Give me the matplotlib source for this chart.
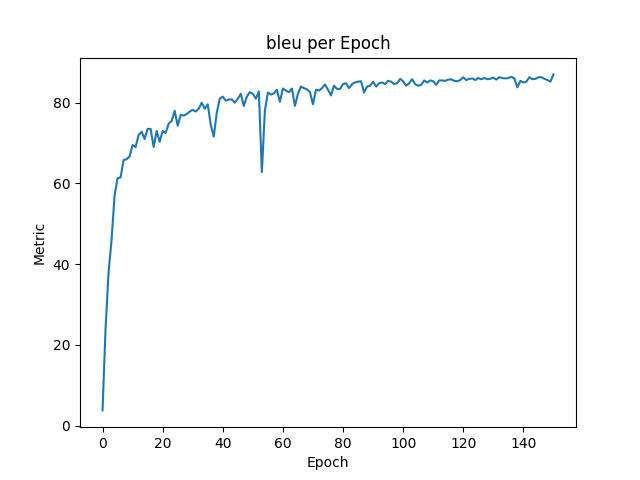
import numpy as np
import matplotlib
matplotlib.use("Agg")
import matplotlib.pyplot as plt

# --- BLEU values, one per epoch (0..150) ---
bleu = [
    3.8, 24, 38, 46, 57, 61.3, 61.5, 65.8, 66, 66.7,
    69.5, 69, 72, 72.8, 71, 73.5, 73.5, 69, 73, 70.3,
    73, 72.5, 74.8, 75.5, 78, 74.3, 77, 76.8, 77.2, 77.8,
    78.2, 77.8, 78.5, 80, 78.5, 79.6, 74.5, 71.6, 77.5, 81,
    81.5, 80.5, 80.8, 80.8, 80, 81, 82.2, 79.2, 81.5, 82.6,
    82.2, 81, 82.8, 62.8, 78, 82.5, 82, 82.3, 83.2, 80.2,
    83.5, 83, 82.6, 83.5, 79.2, 82.2, 84, 83.6, 83.3, 82.6,
    79.6, 83.2, 83, 83.6, 84.5, 83.2, 81.8, 84.2, 83.4, 83.4,
    84.6, 84.8, 83.6, 84.6, 85, 85.2, 85.3, 82.5, 84, 84.2,
    85.2, 84, 84.8, 85, 84.6, 85.4, 85.2, 84.6, 84.8, 85.9,
    85.3, 84.2, 84.8, 85.8, 84.6, 84.2, 84.4, 85.5, 85, 85.5,
    85.3, 84.4, 85.5, 85.5, 85.4, 85.7, 85.8, 85.4, 85.3, 85.6,
    86.3, 85.6, 85.9, 86.0, 85.6, 86.1, 85.8, 86.1, 85.8, 85.9,
    86.2, 85.7, 86.3, 86.1, 86.0, 86.1, 86.4, 86.0, 83.8, 85.4,
    85, 85.2, 86.3, 85.8, 85.9, 86.3, 86.3, 85.9, 85.6, 85.2,
    87,
]
epochs = np.arange(len(bleu))

fig, ax = plt.subplots(figsize=(6.4, 4.8), dpi=100)
ax.plot(epochs, bleu)

ax.set_title("bleu per Epoch")
ax.set_xlabel("Epoch")
ax.set_ylabel("Metric")

plt.savefig("out.png")
